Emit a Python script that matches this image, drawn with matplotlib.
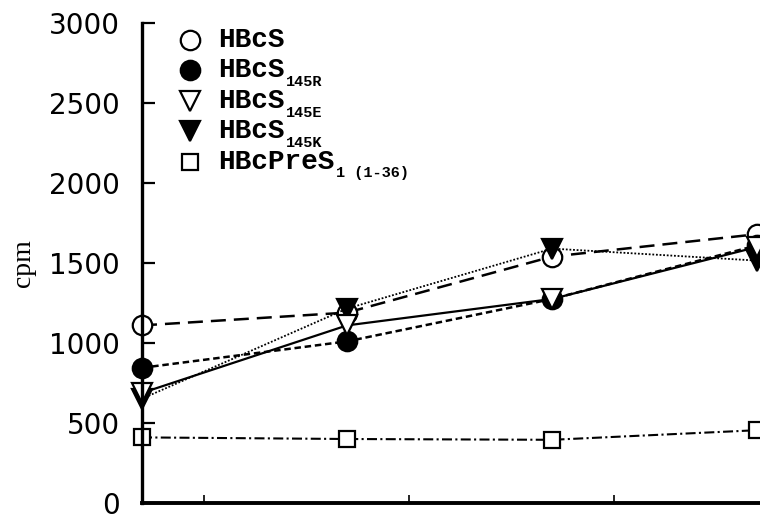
import matplotlib
matplotlib.use("Agg")
import matplotlib.pyplot as plt

# Measurement points and counts (cpm) for each construct
x_points = [0, 1, 2, 3]
hbcs = [1110, 1190, 1540, 1680]
hbcs_145r = [845, 1010, 1275, 1610]
hbcs_145e = [688, 1110, 1275, 1600]
hbcs_145k = [652, 1215, 1590, 1515]
hbcpres1 = [410, 400, 395, 455]

legend_names = ["HBcS", "HBcS", "HBcS", "HBcS", "HBcPreS"]
legend_subscripts = ["", "145R", "145E", "145K", "1 (1-36)"]

y_ticks = [0, 500, 1000, 1500, 2000, 2500, 3000]
x_ticks = [0.3, 1.3, 2.3]

# Line / marker styles, one per series (same order as the legend)
styles = [
    dict(marker="o", mfc="white", ms=14, lw=1.8, dashes=(6, 3.2)),
    dict(marker="o", mfc="black", ms=14, lw=1.8, dashes=(2.6, 1.5)),
    dict(marker="v", mfc="white", ms=14, lw=1.6, dashes=()),
    dict(marker="v", mfc="black", ms=14, lw=1.3, dashes=(1.0, 1.0)),
    dict(marker="s", mfc="white", ms=11.5, lw=1.5, dashes=(4.8, 1.6, 1.0, 1.6)),
]
series = [hbcs, hbcs_145r, hbcs_145e, hbcs_145k, hbcpres1]
draw_order = [4, 0, 3, 1, 2]

fig = plt.figure(figsize=(7.6, 5.19), dpi=100)
ax = fig.add_axes([142 / 760, 16 / 519, 618 / 760, 480 / 519])

for i in draw_order:
    st = styles[i]
    line, = ax.plot(x_points, series[i], color="black", lw=st["lw"],
                    marker=st["marker"], ms=st["ms"], mfc=st["mfc"],
                    mec="black", mew=1.6, clip_on=False)
    if st["dashes"]:
        line.set_dashes(st["dashes"])

ax.set_xlim(0, 618 / 205)
ax.set_ylim(0, 3000)

for side in ("top", "right"):
    ax.spines[side].set_visible(False)
ax.spines["left"].set_linewidth(2.4)
ax.spines["bottom"].set_linewidth(2.8)
ax.spines["left"].set_zorder(5)

ax.set_yticks(y_ticks)
ax.set_yticklabels([str(v) for v in y_ticks], fontfamily="DejaVu Sans", fontsize=20)
ax.tick_params(axis="y", direction="in", length=9, width=1.6, pad=16)
ax.set_xticks(x_ticks)
ax.set_xticklabels([])
ax.tick_params(axis="x", direction="in", length=6, width=1.2)

ax.set_ylabel("cpm", fontfamily="Liberation Serif", fontsize=20)
ax.yaxis.set_label_coords(-0.172, 0.50)

# Legend drawn as marker + label rows in the upper left
row_top = 0.965
row_step = 0.0635
for k, (name, sub) in enumerate(zip(legend_names, legend_subscripts)):
    y = row_top - k * row_step
    st = styles[k]
    ax.plot([0.0777], [y], transform=ax.transAxes, marker=st["marker"],
            ms=st["ms"], mfc=st["mfc"], mec="black", mew=1.6,
            linestyle="none", clip_on=False)
    t = ax.text(0.123, y, name, transform=ax.transAxes, fontsize=20,
                fontfamily="Liberation Mono", fontweight="bold",
                va="center", ha="left")
    if sub:
        ax.annotate(sub, xy=(1, 0), xycoords=t, xytext=(1, -2),
                    textcoords="offset points", fontsize=11,
                    fontfamily="Liberation Mono", fontweight="bold",
                    va="baseline", ha="left")

fig.savefig("out.png", dpi=100)
